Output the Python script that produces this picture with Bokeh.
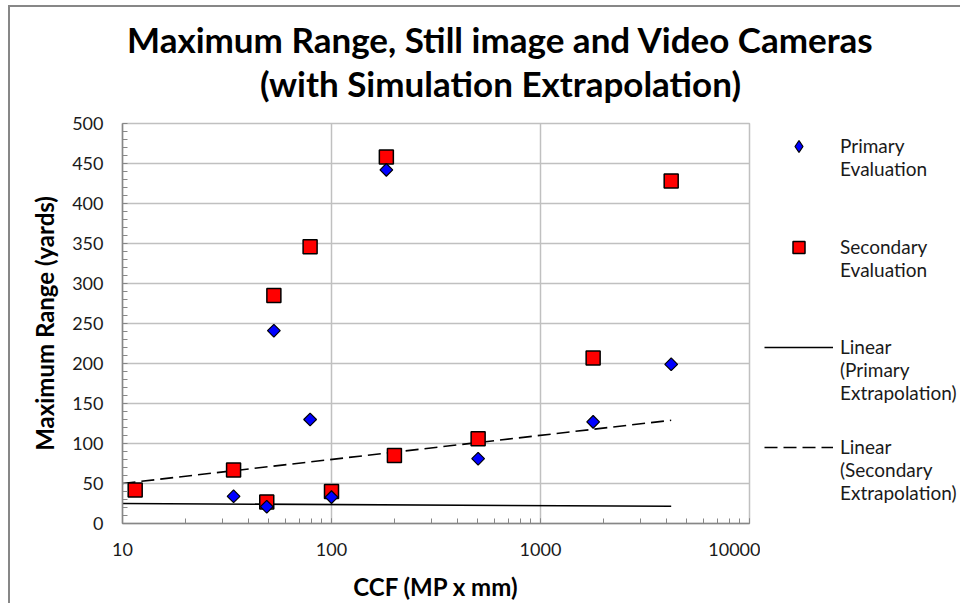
import math
from bokeh.plotting import figure
from bokeh.layouts import column, row
from bokeh.models import (Range1d, Legend, LegendItem, Label,
                          NumeralTickFormatter, LogTicker, SingleIntervalTicker)
from bokeh.embed import file_html
from bokeh.resources import INLINE

# ---- data ----
primary_x = [34, 49, 53, 79, 100, 183, 503, 1786, 4220]
primary_y = [34, 21, 241, 130, 33, 442, 81, 127, 199]
secondary_x = [11.5, 34, 49, 53, 79, 100, 183, 200, 503, 1786, 4220]
secondary_y = [42, 67, 27, 285, 346, 40, 458, 85, 106, 207, 428]
trend_x = [10, 4220]
primary_trend = [25, 21.5]
secondary_trend = [50, 129]

title_lines = ["Maximum Range, Still image and Video Cameras",
               "(with Simulation Extrapolation)"]
x_label = "CCF (MP x mm)"
y_label = "Maximum Range (yards)"
legend_lines = [["Primary", "Evaluation"], ["Secondary", "Evaluation"],
                ["Linear", "(Primary", "Extrapolation)"],
                ["Linear", "(Secondary", "Extrapolation)"]]

FONT = "Lato"
GRID = "#c0c0c0"
AXC = "#878787"

# ---------------- title strip ----------------
W0, H0 = 950, 104
p0 = figure(width=W0, height=H0, output_backend="svg", toolbar_location=None,
            x_axis_location=None, y_axis_location=None, min_border=0)
p0.grid.visible = False
p0.outline_line_color = None
for txt, yb in zip(title_lines, (73, 29)):
    p0.add_layout(Label(x=490, y=yb, x_units="screen", y_units="screen", text=txt,
                        text_align="center", text_baseline="alphabetic", text_font=FONT,
                        text_font_size="35px", text_font_style="bold", text_color="black"))

# ---------------- main chart ----------------
W, H = 750, 492
FL, FT, FR, FB = 112, 12, 739, 413
p = figure(width=W, height=H, x_axis_type="log",
           x_range=Range1d(10, 10000), y_range=Range1d(0, 500),
           output_backend="svg", toolbar_location=None,
           min_border_left=FL, min_border_right=W - FR,
           min_border_top=FT, min_border_bottom=H - FB)
p.outline_line_color = GRID
p.outline_line_width = 1.5

p.xaxis.ticker = LogTicker(num_minor_ticks=10)
p.xaxis.formatter = NumeralTickFormatter(format="0")
p.yaxis.ticker = SingleIntervalTicker(interval=50, num_minor_ticks=5)
for ax in (p.xaxis[0], p.yaxis[0]):
    ax.axis_line_color = AXC
    ax.axis_line_width = 1.5
    ax.major_tick_line_color = AXC
    ax.minor_tick_line_color = AXC
    ax.major_tick_in = 0
    ax.major_tick_out = 0
    ax.minor_tick_in = 5
    ax.minor_tick_out = 0
    ax.major_label_text_font = FONT
    ax.major_label_text_font_size = "18px"
    ax.major_label_text_color = "#1a1a1a"
    ax.axis_label_text_font = FONT
    ax.axis_label_text_font_size = "24px"
    ax.axis_label_text_font_style = "bold"
    ax.axis_label_text_color = "black"
p.xaxis.axis_label = x_label
p.yaxis.axis_label = y_label
p.xaxis.major_label_standoff = 19
p.xaxis.axis_label_standoff = 13
p.yaxis.major_label_standoff = 19
p.yaxis.axis_label_standoff = 10

p.xgrid.grid_line_color = GRID
p.ygrid.grid_line_color = GRID
p.xgrid.grid_line_width = 1.5
p.ygrid.grid_line_width = 1.5

p.line(trend_x, primary_trend, line_color="black", line_width=1.6)
p.line(trend_x, secondary_trend, line_color="black", line_width=1.6, line_dash="13 6")
p.scatter(secondary_x, secondary_y, marker="square", size=14,
          fill_color="#ff0000", line_color="black", line_width=1.5)
p.scatter(primary_x, primary_y, marker="square", size=9, angle=math.pi / 4,
          fill_color="#0000ff", line_color="black", line_width=1.2)

# ---------------- legend strip ----------------
W2 = 200
p2 = figure(width=W2, height=H, output_backend="svg", toolbar_location=None,
            x_range=Range1d(0, 1), y_range=Range1d(0, 1),
            x_axis_location=None, y_axis_location=None, min_border=0)
p2.grid.visible = False
p2.outline_line_color = None
nan = [float("nan")]
k_p = p2.scatter(x=nan, y=nan, marker="diamond", size=12, fill_color="#0000ff",
                 line_color="black", line_width=1.2)
k_s = p2.scatter(x=nan, y=nan, marker="square", size=12, fill_color="#ff0000",
                 line_color="black", line_width=1.5)
k_tp = p2.line(x=nan * 2, y=nan * 2, line_color="black", line_width=1.6)
k_ts = p2.line(x=nan * 2, y=nan * 2, line_color="black", line_width=1.6, line_dash="13 6")

PITCH = 23
targets = [36, 137, 237, 337]   # first-line centre of each legend entry (px from top)
for lines, rend, ty in zip(legend_lines, [k_p, k_s, k_tp, k_ts], targets):
    lab = "\n" * (len(lines) - 1) + "\n".join(lines)
    c = 78.5 + (len(lines) - 0.5) * PITCH
    p2.add_layout(Legend(items=[LegendItem(label=lab, renderers=[rend])],
                         location=(4, H - ty - c), glyph_width=69, glyph_height=30,
                         label_height=0, label_standoff=7, spacing=0,
                         label_text_font=FONT, label_text_font_size="19px",
                         label_text_line_height=1.3, label_text_color="#1a1a1a",
                         border_line_color=None, background_fill_alpha=0,
                         padding=0, margin=0), "center")

layout = column(p0, row(p, p2), margin=(5, 0, 0, 8),
                styles={"border-left": "2px solid #878787", "border-top": "2px solid #878787"})

open("out.html", "w").write(file_html(layout, INLINE))
